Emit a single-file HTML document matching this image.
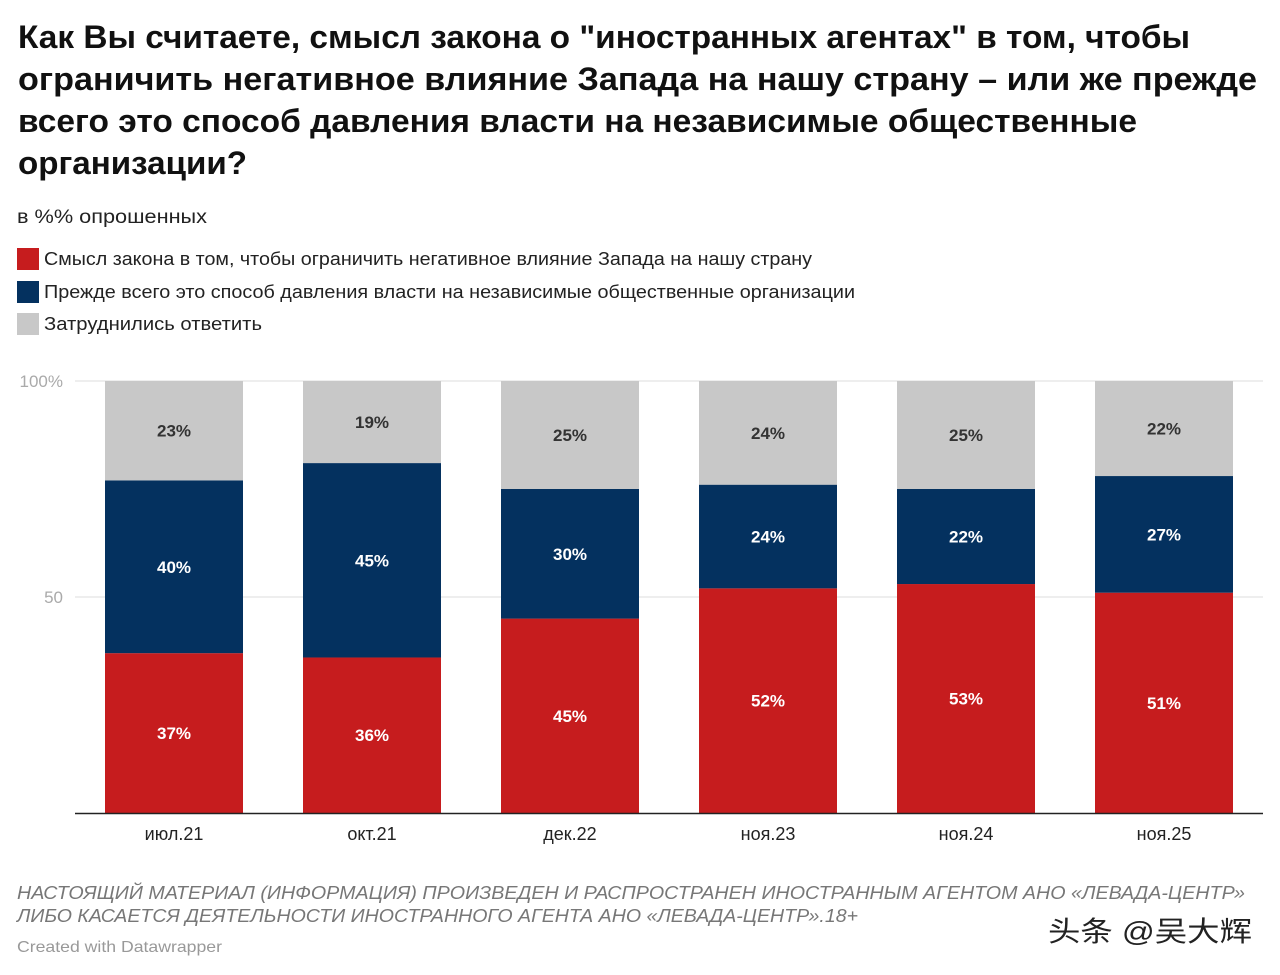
<!DOCTYPE html>
<html><head><meta charset="utf-8">
<style>
html,body{margin:0;padding:0;background:#fff;}
svg{display:block;font-family:"Liberation Sans","Noto Sans CJK SC",sans-serif;}
</style></head>
<body>
<svg id="c" width="1280" height="975" viewBox="0 0 1280 975">
<g font-weight="bold" font-size="32" fill="#111">
<text x="18" y="48" textLength="1172" lengthAdjust="spacingAndGlyphs">Как Вы считаете, смысл закона о "иностранных агентах" в том, чтобы</text>
<text x="18" y="90" textLength="1239" lengthAdjust="spacingAndGlyphs">ограничить негативное влияние Запада на нашу страну – или же прежде</text>
<text x="18" y="132" textLength="1119" lengthAdjust="spacingAndGlyphs">всего это способ давления власти на независимые общественные</text>
<text x="18" y="174" textLength="229" lengthAdjust="spacingAndGlyphs">организации?</text>
</g>
<text x="17" y="223" font-size="19" fill="#222" textLength="190" lengthAdjust="spacingAndGlyphs">в %% опрошенных</text>
<g font-size="18" fill="#222">
<g><rect x="17" y="248" width="22" height="22" fill="#c61c1e"/><text x="44" y="265" textLength="768" lengthAdjust="spacingAndGlyphs">Смысл закона в том, чтобы ограничить негативное влияние Запада на нашу страну</text></g>
<g><rect x="17" y="281" width="22" height="22" fill="#04315f"/><text x="44" y="298" textLength="811" lengthAdjust="spacingAndGlyphs">Прежде всего это способ давления власти на независимые общественные организации</text></g>
<g><rect x="17" y="313" width="22" height="22" fill="#c8c8c8"/><text x="44" y="330" textLength="218" lengthAdjust="spacingAndGlyphs">Затруднились ответить</text></g>
</g>
<g id="plot"></g>
<g>
<text x="17" y="899" font-size="18" font-style="italic" fill="#777" textLength="1228" lengthAdjust="spacingAndGlyphs">НАСТОЯЩИЙ МАТЕРИАЛ (ИНФОРМАЦИЯ) ПРОИЗВЕДЕН И РАСПРОСТРАНЕН ИНОСТРАННЫМ АГЕНТОМ АНО «ЛЕВАДА-ЦЕНТР»</text>
<text x="17" y="922" font-size="18" font-style="italic" fill="#777" textLength="841" lengthAdjust="spacingAndGlyphs">ЛИБО КАСАЕТСЯ ДЕЯТЕЛЬНОСТИ ИНОСТРАННОГО АГЕНТА АНО «ЛЕВАДА-ЦЕНТР».18+</text>
<text x="17" y="952" font-size="16" fill="#999" textLength="205" lengthAdjust="spacingAndGlyphs">Created with Datawrapper</text>
<text x="1048" y="941" font-size="28" fill="#222" textLength="204" lengthAdjust="spacingAndGlyphs">头条 @吴大辉</text>
</g>
</svg>
<script>
const categories = ["июл.21","окт.21","дек.22","ноя.23","ноя.24","ноя.25"];
const westValues = [37,36,45,52,53,51];
const pressureValues = [40,45,30,24,22,27];
const unsureValues = [23,19,25,24,25,22];
const yTicks = [0,50,100];
const yTickLabels = ["","50","100%"];

const NS="http://www.w3.org/2000/svg";
const plot=document.getElementById('plot');
const y0=813, y100=381, xL=75, xR=1263;
const y=v=>y0-(y0-y100)*v/100;
const band=(xR-xL)/categories.length, bw=138;
const xc=i=>xL+band*(i+0.5);
function mk(tag,attrs,text){const e=document.createElementNS(NS,tag);for(const k in attrs)e.setAttribute(k,attrs[k]);if(text!==undefined)e.textContent=text;plot.appendChild(e);return e;}
yTicks.forEach((t,i)=>{
  if(t>0){const l=mk('line',{x1:xL,x2:xR,y1:y(t),y2:y(t),stroke:'#ddd','stroke-width':1});
  
  }
  if(yTickLabels[i]){const tx=mk('text',{x:63,y:y(t)+6,'text-anchor':'end','font-size':17,fill:'#aaa'},yTickLabels[i]);
  
  }
});
const series=[[westValues,'#c61c1e','#fff','west'],[pressureValues,'#04315f','#fff','pressure'],[unsureValues,'#c8c8c8','#333','unsure']];
categories.forEach((c,i)=>{
  let acc=0;
  series.forEach(([vals,col,tc,nm])=>{
    const v=vals[i];
    const top=y(acc+v), bot=y(acc);
    const r=mk('rect',{x:xc(i)-bw/2,y:top,width:bw,height:bot-top,fill:col});
    
    
    const t=mk('text',{x:xc(i),y:(top+bot)/2+6,'text-anchor':'middle','font-size':17,'font-weight':'bold',fill:tc},v+'%');
    
    
    acc+=v;
  });
  const xl=mk('text',{x:xc(i),y:840,'text-anchor':'middle','font-size':18,fill:'#222'},c);
  
  
});
const base=mk('line',{x1:xL,x2:xR,y1:y0+0.5,y2:y0+0.5,stroke:'#222','stroke-width':1.5});


</script>
</body></html>
